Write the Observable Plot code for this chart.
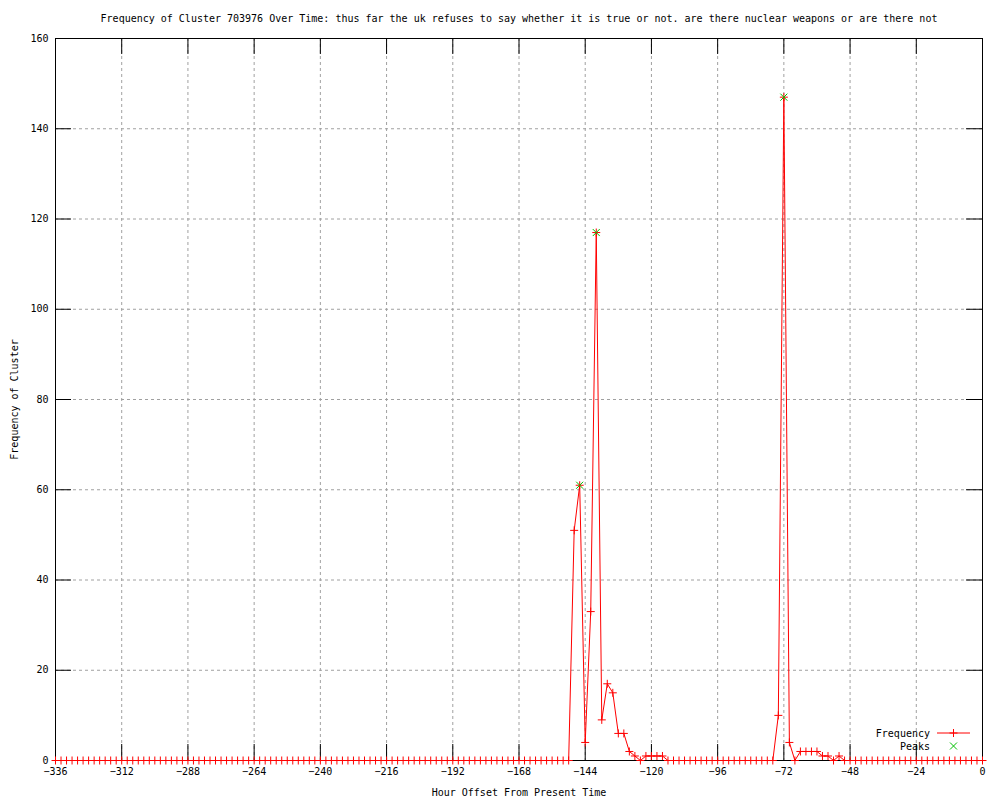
<!DOCTYPE html>
<html><head><meta charset="utf-8">
<script src="https://cdn.jsdelivr.net/npm/d3@7"></script>
<script src="https://cdn.jsdelivr.net/npm/@observablehq/plot@0.6"></script>
<style>body{margin:0;background:#fff} #chart{width:1000px;height:800px}</style>
</head><body><div id="chart"></div>
<script>
const title = "Frequency of Cluster 703976 Over Time: thus far the uk refuses to say whether it is true or not. are there nuclear weapons or are there not";
const xLabel = "Hour Offset From Present Time";
const yLabel = "Frequency of Cluster";
const legendLabels = ["Frequency", "Peaks"];

const hours = [
  -336,-334,-332,-330,-328,-326,-324,-322,-320,-318,-316,-314,
  -312,-310,-308,-306,-304,-302,-300,-298,-296,-294,-292,-290,
  -288,-286,-284,-282,-280,-278,-276,-274,-272,-270,-268,-266,
  -264,-262,-260,-258,-256,-254,-252,-250,-248,-246,-244,-242,
  -240,-238,-236,-234,-232,-230,-228,-226,-224,-222,-220,-218,
  -216,-214,-212,-210,-208,-206,-204,-202,-200,-198,-196,-194,
  -192,-190,-188,-186,-184,-182,-180,-178,-176,-174,-172,-170,
  -168,-166,-164,-162,-160,-158,-156,-154,-152,-150,-148,-146,
  -144,-142,-140,-138,-136,-134,-132,-130,-128,-126,-124,-122,
  -120,-118,-116,-114,-112,-110,-108,-106,-104,-102,-100,-98,
  -96,-94,-92,-90,-88,-86,-84,-82,-80,-78,-76,-74,
  -72,-70,-68,-66,-64,-62,-60,-58,-56,-54,-52,-50,
  -48,-46,-44,-42,-40,-38,-36,-34,-32,-30,-28,-26,
  -24,-22,-20,-18,-16,-14,-12,-10,-8,-6,-4,-2,
  0
];
const frequency = [
  0,0,0,0,0,0,0,0,0,0,0,0,
  0,0,0,0,0,0,0,0,0,0,0,0,
  0,0,0,0,0,0,0,0,0,0,0,0,
  0,0,0,0,0,0,0,0,0,0,0,0,
  0,0,0,0,0,0,0,0,0,0,0,0,
  0,0,0,0,0,0,0,0,0,0,0,0,
  0,0,0,0,0,0,0,0,0,0,0,0,
  0,0,0,0,0,0,0,0,0,0,51,61,
  4,33,117,9,17,15,6,6,2,1,0,1,
  1,1,1,0,0,0,0,0,0,0,0,0,
  0,0,0,0,0,0,0,0,0,0,0,10,
  147,4,0,2,2,2,2,1,1,0,1,0,
  0,0,0,0,0,0,0,0,0,0,0,0,
  0,0,0,0,0,0,0,0,0,0,0,0,
  0
];
const peakHours = [-146, -140, -72];
const peakValues = [61, 117, 147];
const xTicks = [-336,-312,-288,-264,-240,-216,-192,-168,-144,-120,-96,-72,-48,-24,0];
const yTicks = [0,20,40,60,80,100,120,140,160];

const data = hours.map((h, i) => ({hour: h, freq: frequency[i]}));
const peaks = peakHours.map((h, i) => ({hour: h, freq: peakValues[i]}));

const W = 1000, H = 800, mL = 55, mR = 18, mT = 38, mB = 40;
const fw = W - mL - mR, fh = H - mT - mB;
const tick = 16;
const font = "DejaVu Sans Mono";
const plusSym = {draw(ctx, size) {const r = Math.sqrt(size / Math.PI); ctx.moveTo(-r, 0); ctx.lineTo(r, 0); ctx.moveTo(0, -r); ctx.lineTo(0, r);}};
const timesSym = {draw(ctx, size) {const r = Math.sqrt(size / Math.PI); ctx.moveTo(-r, -r); ctx.lineTo(r, r); ctx.moveTo(-r, r); ctx.lineTo(r, -r);}};

const chart = Plot.plot({
  width: W, height: H,
  marginLeft: mL, marginRight: mR, marginTop: mT, marginBottom: mB,
  style: {fontFamily: font, fontSize: "10px", color: "black", background: "white"},
  x: {domain: [-336, 0]},
  y: {domain: [0, 160]},
  marks: [
    Plot.gridX(xTicks, {stroke: "#a0a0a0", strokeOpacity: 1, strokeDasharray: "3,3"}),
    Plot.gridY(yTicks, {stroke: "#a0a0a0", strokeOpacity: 1, strokeDasharray: "3,3"}),
    Plot.tickX(xTicks, {x: d => d, stroke: "black", insetTop: fh - tick}),
    Plot.tickX(xTicks, {x: d => d, stroke: "black", insetBottom: fh - tick}),
    Plot.tickY(yTicks, {y: d => d, stroke: "black", insetRight: fw - tick}),
    Plot.tickY(yTicks, {y: d => d, stroke: "black", insetLeft: fw - tick}),
    Plot.axisX(xTicks, {tickSize: 0, tickPadding: 7, label: null, fontSize: 10}),
    Plot.axisY(yTicks, {tickSize: 0, tickPadding: 7, label: null, fontSize: 10}),
    Plot.frame({stroke: "black"}),
    Plot.line(data, {x: "hour", y: "freq", stroke: "red", strokeWidth: 1}),
    Plot.dot(data, {x: "hour", y: "freq", symbol: plusSym, r: 4, stroke: "red", fill: "none", strokeWidth: 1}),
    Plot.dot(peaks, {x: "hour", y: "freq", symbol: timesSym, r: 3.5, stroke: "#00c000", fill: "none", strokeWidth: 1}),
    Plot.text([title], {frameAnchor: "top", dy: -20, lineAnchor: "middle", textAnchor: "middle", text: d => d, fontSize: 10}),
    Plot.text([xLabel], {frameAnchor: "bottom", dy: 32, lineAnchor: "middle", textAnchor: "middle", text: d => d, fontSize: 10}),
    Plot.text([yLabel], {frameAnchor: "left", dx: -41, rotate: -90, lineAnchor: "middle", textAnchor: "middle", text: d => d, fontSize: 10})
  ]
});

// legend (bottom-right, inside plot area)
const svg = d3.select(chart);
const lg = svg.append("g").attr("font-family", font).attr("font-size", 10);
const rows = [
  {label: legendLabels[0], y: 733, color: "red", sym: plusSym, r: 4, line: true},
  {label: legendLabels[1], y: 746, color: "#00c000", sym: timesSym, r: 3.5, line: false}
];
rows.forEach(row => {
  lg.append("text").attr("x", 930).attr("y", row.y).attr("text-anchor", "end")
    .attr("dominant-baseline", "central").attr("fill", "black").text(row.label);
  if (row.line) {
    lg.append("line").attr("x1", 937).attr("x2", 970).attr("y1", row.y).attr("y2", row.y)
      .attr("stroke", row.color).attr("stroke-width", 1);
  }
  const p = d3.path();
  row.sym.draw(p, row.r * row.r * Math.PI);
  lg.append("path").attr("d", p.toString()).attr("transform", `translate(953.5,${row.y})`)
    .attr("stroke", row.color).attr("fill", "none");
});

document.getElementById("chart").appendChild(chart);
</script>
</body></html>
